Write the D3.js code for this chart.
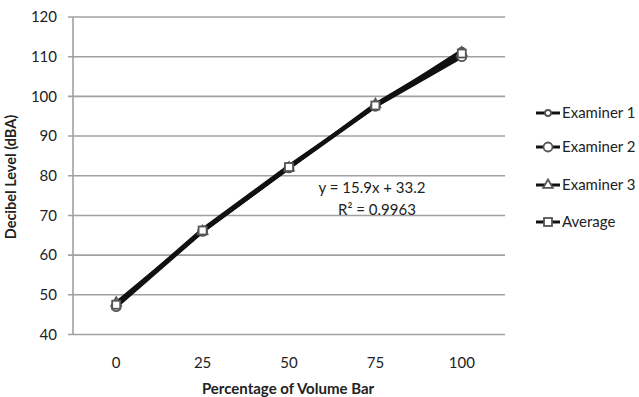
<!DOCTYPE html>
<html><head><meta charset="utf-8">
<script src="https://cdn.jsdelivr.net/npm/d3@7"></script>
<style>body{margin:0;background:#fff}svg{display:block}text{font-family:Lato,"Open Sans",sans-serif;fill:#222}</style>
</head><body><svg id="c" width="639" height="397"></svg>
<script>
const categories = [0, 25, 50, 75, 100];
const examiner1 = [47.5, 66.5, 82.5, 97.5, 111.5];
const examiner2 = [47.0, 66.0, 82.0, 97.5, 110.0];
const examiner3 = [48.0, 66.0, 82.0, 98.0, 111.0];
const average   = [47.5, 66.2, 82.2, 97.7, 110.8];
const yTicks = [40, 50, 60, 70, 80, 90, 100, 110, 120];
const seriesNames = ["Examiner 1", "Examiner 2", "Examiner 3", "Average"];
const equationText = ["y = 15.9x + 33.2", "R\u00B2 = 0.9963"];

const series = [
  {name: seriesNames[0], values: examiner1, shape: "circleS"},
  {name: seriesNames[1], values: examiner2, shape: "circleL"},
  {name: seriesNames[2], values: examiner3, shape: "triangle"},
  {name: seriesNames[3], values: average, shape: "square"}
];

const svg = d3.select("#c");
const L = 73, R = 505, T = 17, B = 334.5;
const x = d3.scalePoint().domain(categories).range([L, R]).padding(0.5);
const y = d3.scaleLinear().domain([40, 120]).range([B, T]);

svg.append("g").selectAll("line").data(yTicks).join("line")
  .attr("x1", L - 5).attr("x2", R).attr("y1", d => y(d)).attr("y2", d => y(d))
  .attr("stroke", "#a0a0a0").attr("stroke-width", 1.6);
svg.append("line").attr("x1", L).attr("x2", L).attr("y1", T).attr("y2", B)
  .attr("stroke", "#a0a0a0").attr("stroke-width", 1.6);

svg.append("g").selectAll("text").data(yTicks).join("text")
  .attr("x", L - 16).attr("y", d => y(d)).attr("dy", "0.35em")
  .attr("text-anchor", "end").attr("font-size", 15).text(d => d);
svg.append("g").selectAll("text").data(categories).join("text")
  .attr("x", d => x(d)).attr("y", 363).attr("dy", "0.35em")
  .attr("text-anchor", "middle").attr("font-size", 15).text(d => d);

svg.append("text").attr("transform", "translate(16,177) rotate(-90)")
  .attr("text-anchor", "middle").attr("font-size", 14.5).attr("font-weight", "bold")
  .text("Decibel Level (dBA)");
svg.append("text").attr("x", 288).attr("y", 389).attr("dy", "0.35em")
  .attr("text-anchor", "middle").attr("font-size", 15).attr("font-weight", "bold")
  .text("Percentage of Volume Bar");

const line = d3.line().x((d, i) => x(categories[i])).y(d => y(d));
series.forEach(s => {
  svg.append("path").attr("d", line(s.values)).attr("fill", "none")
    .attr("stroke", "#111").attr("stroke-width", 3.5);
});

function marker(g, shape, cx, cy) {
  let m;
  if (shape === "circleS") m = g.append("circle").attr("cx", cx).attr("cy", cy).attr("r", 3);
  else if (shape === "circleL") m = g.append("circle").attr("cx", cx).attr("cy", cy).attr("r", 4.5);
  else if (shape === "triangle") m = g.append("path").attr("d", d3.symbol(d3.symbolTriangle, 40)()).attr("transform", `translate(${cx},${cy})`);
  else m = g.append("rect").attr("x", cx - 4).attr("y", cy - 4).attr("width", 8).attr("height", 8);
  m.attr("fill", "#fff").attr("stroke", "#555").attr("stroke-width", 1.8);
}
const mg = svg.append("g");
series.forEach(s => s.values.forEach((v, i) => marker(mg, s.shape, x(categories[i]), y(v))));

svg.append("text").attr("x", 372).attr("y", 188).attr("dy", "0.35em")
  .attr("text-anchor", "middle").attr("font-size", 15).text(equationText[0]);
svg.append("text").attr("x", 377).attr("y", 210).attr("dy", "0.35em")
  .attr("text-anchor", "middle").attr("font-size", 15).text(equationText[1]);

const legY = [113, 147, 185, 222];
const lg = svg.append("g");
series.forEach((s, i) => {
  lg.append("line").attr("x1", 536).attr("x2", 560).attr("y1", legY[i]).attr("y2", legY[i])
    .attr("stroke", "#111").attr("stroke-width", 3);
  marker(lg, s.shape, 548, legY[i]);
  lg.append("text").attr("x", 562).attr("y", legY[i]).attr("dy", "0.35em")
    .attr("font-size", 15).text(s.name);
});
</script></body></html>
